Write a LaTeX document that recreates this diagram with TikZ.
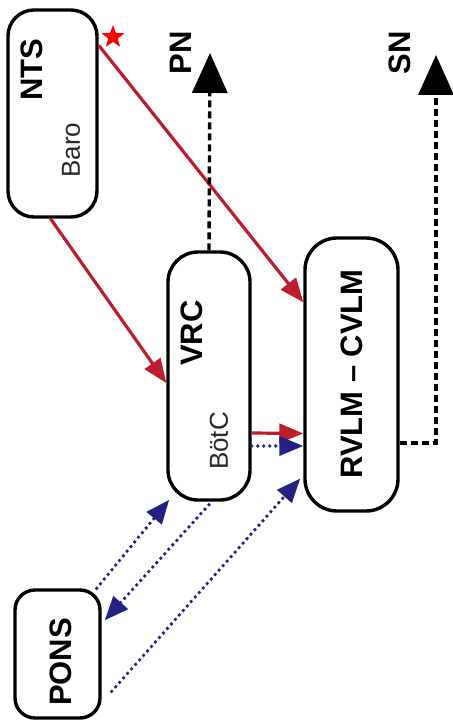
\documentclass[tikz,border=0pt]{standalone}
\usepackage{fontspec}
\setmainfont{Liberation Sans}
\usetikzlibrary{arrows.meta,shapes.geometric}
\definecolor{exc}{RGB}{188,30,44}
\definecolor{inh}{RGB}{36,34,128}
\definecolor{sub}{RGB}{40,40,40}
\begin{document}
\begin{tikzpicture}[x=1pt,y=-1pt,
  region/.style={draw=black,line width=3.4pt,rounded corners=26pt,inner sep=0pt,minimum width=#1},
  bigtext/.style={font=\bfseries\fontsize{31}{31}\selectfont,rotate=90,inner sep=0pt},
  smalltext/.style={font=\fontsize{26}{26}\selectfont,text=sub,rotate=90,inner sep=0pt},
  excite/.style={draw=exc,line width=3.2pt,-{Triangle[length=24pt,width=19pt]}},
  inhib/.style={draw=inh,line width=3.8pt,line cap=round,dash pattern=on 0pt off 6pt,
    -{Triangle[length=24pt,width=19pt]}},
  outflow/.style={draw=black,line width=3.4pt,dash pattern=on 7pt off 4pt,
    -{Triangle[length=40pt,width=35pt]}}]
\useasboundingbox (0,0) rectangle (452,722);

% brainstem regions
\node[region=89pt,minimum height=207pt] (nts) at (52.5,113.5) {};
\node[region=82pt,minimum height=248pt,rounded corners=30pt] (vrc) at (209,376) {};
\node[region=93pt,minimum height=273pt,rounded corners=32pt] (rvlm) at (351.5,374.5) {};
\node[region=85pt,minimum height=128pt,rounded corners=20pt] (pons) at (57.5,654) {};

% region labels
\node[bigtext] (ntsl) at (32,70) {NTS};
\node[smalltext] (baro) at (71,150) {Baro};
\node[bigtext] (vrcl) at (192,333) {VRC};
\node[smalltext] (botc) at (219,441) {BötC};
\node[bigtext] (rvlml) at (352,374) {RVLM – CVLM};
\node[bigtext] (ponsl) at (61,662) {PONS};
\node[bigtext] (pnl) at (181,53) {PN};
\node[bigtext] (snl) at (400,53) {SN};

% baroreceptor input marker
\node[star,star points=5,star point ratio=2.4,fill=red,inner sep=0pt,minimum size=24pt] (nstar) at (113,37) {};

% excitatory projections
\draw[excite] ([yshift=-37pt]nts.north east) -- ([yshift=-66pt]rvlm.north west);
\draw[excite] ([xshift=-2pt]nts.south) -- ([yshift=-7pt]vrc.west);
\draw[excite] ([yshift=-57pt]vrc.east) -- ([yshift=-59pt]rvlm.west);

% respiratory-pontine interactions
\draw[inhib] ([yshift=-70pt]vrc.east) -- ([yshift=-71.5pt]rvlm.west);
\draw[inhib] ([xshift=-5pt]pons.north east) -- ([xshift=3pt,yshift=2pt]vrc.south west);
\draw[inhib] ([yshift=-3pt]vrc.south) -- ([xshift=3pt,yshift=-32pt]pons.north east);
\draw[inhib] ([xshift=10pt,yshift=-103pt]pons.north east) -- ([xshift=-3pt,yshift=-104pt]rvlm.west);

% autonomic outflows
\coordinate (pntip) at (210,53);
\coordinate (snbend) at (436,443);
\coordinate (sntip) at (436,55);
\draw[outflow] (vrc.north) -- (pntip);
\draw[outflow] ([yshift=-68.5pt]rvlm.east) -- (snbend) -- (sntip);
\end{tikzpicture}
\end{document}
